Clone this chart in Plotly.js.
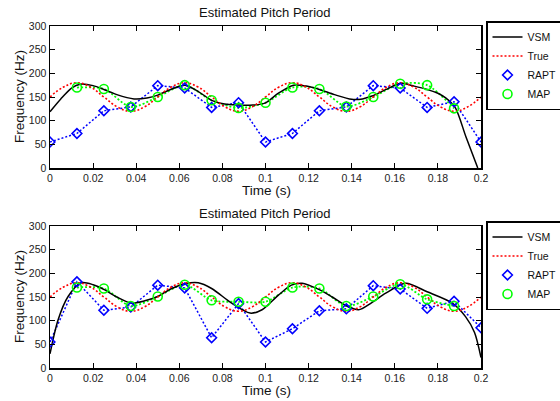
<!DOCTYPE html>
<html>
<head>
<meta charset="utf-8">
<script src="https://cdn.plot.ly/plotly-3.0.1.min.js"></script>
<style>html,body{margin:0;padding:0;background:#fff;}#chart{width:560px;height:401px;}</style>
</head>
<body>
<div id="chart"></div>
<script>
// ---- Data ----
var sampleT = [0,0.0125,0.025,0.0375,0.05,0.0625,0.075,0.0875,0.1,0.1125,0.125,0.1375,0.15,0.1625,0.175,0.1875,0.2];
var mapT = [0.0125,0.025,0.0375,0.05,0.0625,0.075,0.0875,0.1,0.1125,0.125,0.1375,0.15,0.1625,0.175,0.1875];

var trueT = [0,0.00625,0.0125,0.01875,0.025,0.03125,0.0375,0.04375,0.05,0.05625,0.0625,0.06875,0.075,0.08125,0.0875,0.09375,0.1,0.10625,0.1125,0.11875,0.125,0.13125,0.1375,0.14375,0.15,0.15625,0.1625,0.16875,0.175,0.18125,0.1875,0.19375,0.2];
var trueF = [150,171,180,171,150,129,120,129,150,171,180,171,150,129,120,129,150,171,180,171,150,129,120,129,150,171,180,171,150,129,120,129,150];

// Top panel
var vsmTopT = [0,0.005,0.01,0.014,0.02,0.025,0.031,0.039,0.045,0.05,0.056,0.0627,0.069,0.075,0.081,0.0874,0.094,0.0998,0.106,0.113,0.119,0.125,0.132,0.14,0.145,0.1494,0.156,0.1627,0.169,0.175,0.18,0.1836,0.188,0.193,0.1985];
var vsmTopF = [119,146,169,177,174,166,155,146,148,154,166,175,161,143,135,133,133,137,158,175,173,166,155,145,146,152,166,179,173,166,158,148,128,66,0];
var raptTopF = [55,73,121,129,174,169,128,138,55,73,121,129,174,169,128,140,55];
var mapTopF = [170,167,129,150,175,143,127,138,170,167,130,150,178,175,126];

// Bottom panel
var vsmBotT = [0,0.0037,0.0084,0.0145,0.02,0.0254,0.031,0.0377,0.044,0.05,0.056,0.0627,0.0688,0.075,0.0843,0.0928,0.0984,0.106,0.112,0.117,0.1247,0.131,0.137,0.1432,0.149,0.1558,0.165,0.175,0.1867,0.1929,0.197,0.2];
var vsmBotF = [30,101,151,180,176,165,150,137,142,151,167,178,180,168,137,116,123,154,175,179,166,150,133,123,137,158,179,161,137,108,75,22];
var raptBotF = [55,182,122,129,175,169,64,136,55,83,121,125,174,167,126,141,85];
var mapBotF = [170,168,131,151,176,143,140,140,170,168,131,151,177,145,131];

var xTickVals = [0,0.02,0.04,0.06,0.08,0.1,0.12,0.14,0.16,0.18,0.2];
var xTickText = ['0','0.02','0.04','0.06','0.08','0.1','0.12','0.14','0.16','0.18','0.2'];
var yTickVals = [0,50,100,150,200,250,300];
var seriesNames = ['VSM','True','RAPT','MAP'];
var panelTitle = 'Estimated Pitch Period';
var xTitle = 'Time (s)';
var yTitle = 'Frequency (Hz)';

// ---- Build traces ----
var dotDash = '2px,2px';
function panelTraces(xa, ya, leg, vT, vF, rF, mF) {
  return [
    {x: sampleT, y: rF, xaxis: xa, yaxis: ya, mode: 'lines', showlegend: false,
     line: {color: '#0000ff', width: 1.5, dash: dotDash}, hoverinfo: 'skip'},
    {x: mapT, y: mF, xaxis: xa, yaxis: ya, mode: 'lines', showlegend: false,
     line: {color: '#00ff00', width: 1.8, dash: dotDash, shape: 'spline', smoothing: 0.8}, hoverinfo: 'skip'},
    {x: vT, y: vF, xaxis: xa, yaxis: ya, mode: 'lines', name: seriesNames[0], legend: leg,
     line: {color: '#000000', width: 1.5, shape: 'spline', smoothing: 0.8}},
    {x: trueT, y: trueF, xaxis: xa, yaxis: ya, mode: 'lines', name: seriesNames[1], legend: leg,
     line: {color: '#ff0000', width: 1.6, dash: dotDash, shape: 'spline', smoothing: 1.3}},
    {x: sampleT, y: rF, xaxis: xa, yaxis: ya, mode: 'markers', name: seriesNames[2], legend: leg,
     marker: {symbol: 'diamond-open', size: 7.5, color: '#0000ff', line: {color: '#0000ff', width: 1.6}}},
    {x: mapT, y: mF, xaxis: xa, yaxis: ya, mode: 'markers', name: seriesNames[3], legend: leg,
     marker: {symbol: 'circle-open', size: 9, color: '#00ff00', line: {color: '#00ff00', width: 1.6}}}
  ];
}

var traces = panelTraces('x', 'y', 'legend', vsmTopT, vsmTopF, raptTopF, mapTopF)
  .concat(panelTraces('x2', 'y2', 'legend2', vsmBotT, vsmBotF, raptBotF, mapBotF));

var fontFam = 'Liberation Sans, Arial, Helvetica, sans-serif';
function xAxis(anchor) {
  return {domain: [50/560, 481/560], range: [0, 0.2], anchor: anchor, tickvals: xTickVals, ticktext: xTickText,
    ticks: 'inside', ticklen: 5, tickwidth: 1, tickcolor: '#000', showline: true, linecolor: '#000', linewidth: 1.5,
    mirror: 'ticks', showgrid: false, zeroline: false, tickfont: {size: 10.5, color: '#222', family: fontFam}, fixedrange: true};
}
function yAxis(anchor, dom) {
  return {domain: dom, range: [0, 300], anchor: anchor, tickvals: yTickVals,
    ticks: 'inside', ticklen: 5, tickwidth: 1, tickcolor: '#000', showline: true, linecolor: '#000', linewidth: 1.5,
    mirror: 'ticks', showgrid: false, zeroline: false, tickfont: {size: 10.5, color: '#222', family: fontFam}, fixedrange: true};
}
var topDom = [1 - 168/401, 1 - 26/401];
var botDom = [1 - 368/401, 1 - 226/401];

function legendCfg(yTopPx) {
  return {x: 486/560, y: 1 - yTopPx/401, xanchor: 'left', yanchor: 'top', bgcolor: '#fff',
    bordercolor: '#000', borderwidth: 1.5, font: {size: 10.5, color: '#111', family: fontFam},
    tracegroupgap: 0, itemwidth: 30};
}

function ann(text, xpx, ypx, size, angle) {
  return {text: text, x: xpx/560, y: 1 - ypx/401, xref: 'paper', yref: 'paper', showarrow: false,
    xanchor: 'center', yanchor: 'middle', textangle: angle || 0, font: {size: size, color: '#111', family: fontFam}};
}

var layout = {
  width: 560, height: 401, margin: {l: 0, r: 0, t: 0, b: 0, autoexpand: false}, paper_bgcolor: '#fff', plot_bgcolor: '#fff',
  showlegend: true,
  xaxis: xAxis('y'), yaxis: yAxis('x', topDom),
  xaxis2: xAxis('y2'), yaxis2: yAxis('x2', botDom),
  legend: legendCfg(21), legend2: legendCfg(221),
  annotations: [
    ann(panelTitle, 265, 13, 13), ann(panelTitle, 265, 213, 13),
    ann(xTitle, 266, 190, 13.5), ann(xTitle, 266, 390, 13.5),
    ann(yTitle, 19, 97, 13.5, -90), ann(yTitle, 19, 297, 13.5, -90)
  ]
};

Plotly.newPlot('chart', traces, layout, {staticPlot: true, displayModeBar: false});
</script>
</body>
</html>
